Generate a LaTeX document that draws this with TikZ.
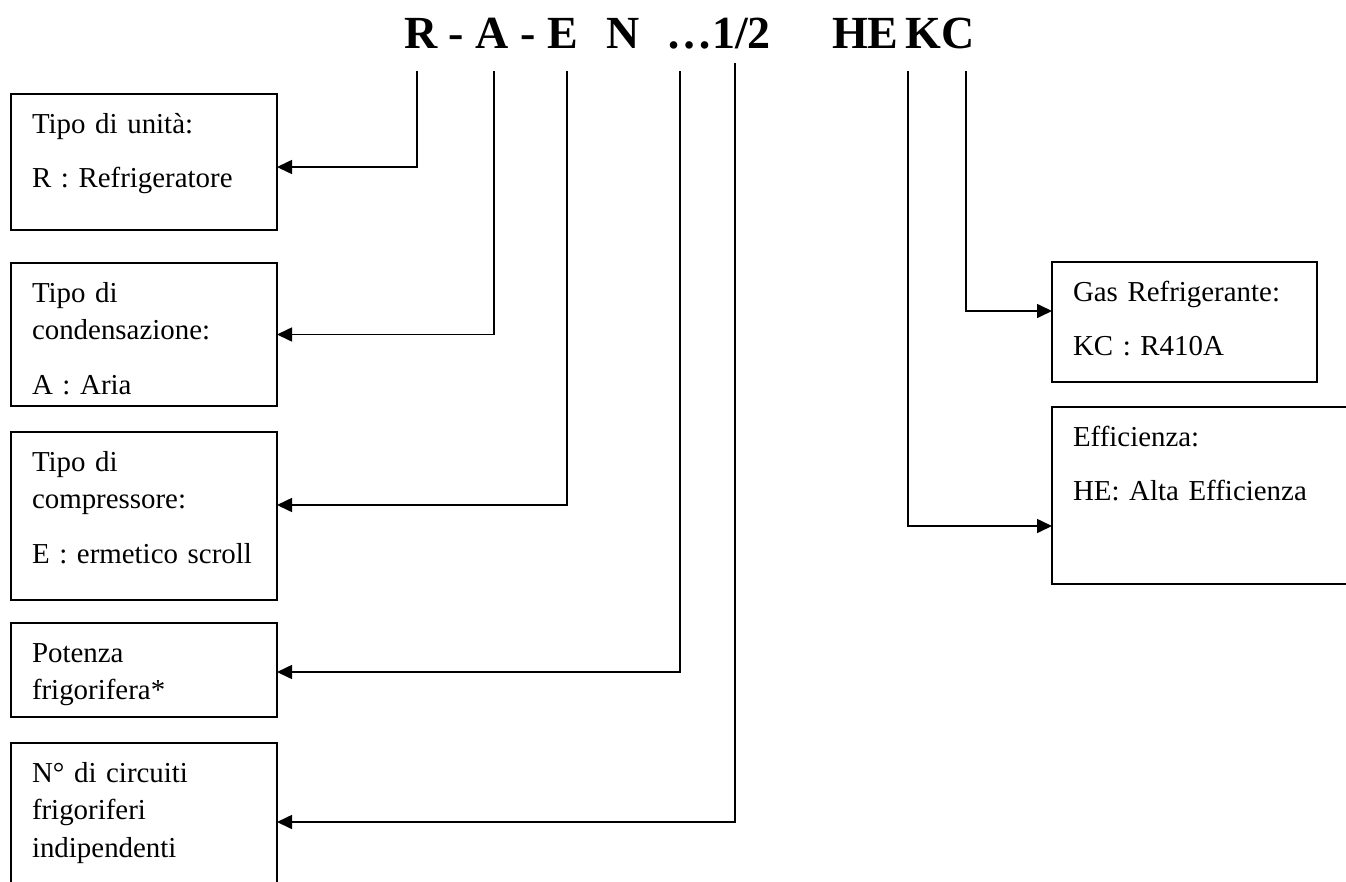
\documentclass[tikz,border=0pt]{standalone}
\usepackage{fontspec}
\setmainfont{Liberation Serif}[BoldFont={Liberation Serif Bold}]
\usetikzlibrary{arrows.meta,positioning}
\tikzset{
  wire/.style={black,line width=1.6pt},
  flow/.style={wire,-{Triangle[length=15pt,width=14pt]}},
  legend/.style={draw=black,line width=1.8pt,anchor=north west,outer sep=0pt,
                 inner xsep=21pt,inner ysep=0pt,text width=224pt,align=left,
                 text height=39pt,font=\fontsize{28.9}{37.5}\selectfont},
  code/.style={anchor=base west,inner sep=0pt,font=\fontsize{46}{50}\selectfont\bfseries},
}

\begin{document}
\begin{tikzpicture}[x=1pt,y=-1pt]
  \path[use as bounding box] (0,0) rectangle (1346,881);
  \clip (0,0) rectangle (1346,881);

  % sigla
  \node[code] (codeRAE)  at (404,48) {R - A - E};
  \node[code] (codeN)    at (606,48) {N};
  \node[code] (codeDots) at (666,48) {…1/2};
  \node[code] (codeHE)   at (832,48) {HE};
  \node[code] (codeKC)   at (905,48) {KC};

  % legenda a sinistra
  \node[legend,text depth=97pt] (unita) at (11,94)
    {Tipo di unità:\\[17pt]R : Refrigeratore};
  \node[legend,text depth=104pt] (condens) at (11,263)
    {Tipo di\\condensazione:\\[17pt]A : Aria};
  \node[legend,text depth=129pt] (compr) at (11,432)
    {Tipo di\\compressore:\\[17pt]E : ermetico scroll};
  \node[legend,text depth=55pt] (potenza) at (11,623)
    {Potenza\\frigorifera*};
  \node[legend,text depth=119pt] (circuiti) at (11,743)
    {N° di circuiti\\frigoriferi\\indipendenti};

  % legenda a destra
  \node[legend,text width=223pt,text depth=81pt] (gas) at (1052,262)
    {Gas Refrigerante:\\[17pt]KC : R410A};
  \node[legend,text width=266pt,text depth=138pt] (eff) at (1052,407)
    {Efficienza:\\[17pt]HE: Alta Efficienza};

  \coordinate (pR)  at (417,71);
  \coordinate (pA)  at (494,71);
  \coordinate (pE)  at (567,71);
  \coordinate (pN)  at (680,71);
  \coordinate (pC)  at (735,63);
  \coordinate (pHE) at (908,71);
  \coordinate (pKC) at (966,71);

  \draw[flow] (pR)  |- ([yshift=-5pt]unita.east);
  \draw[flow] (pA)  |- (condens.east);
  \draw[flow] (pE)  |- ([yshift=11pt]compr.east);
  \draw[flow] (pN)  |- ([yshift=-2pt]potenza.east);
  \draw[flow] (pC)  |- (circuiti.east);
  \draw[flow] (pKC) |- ([yshift=11pt]gas.west);
  \draw[flow] (pHE) |- ([yshift=-30.5pt]eff.west);
\end{tikzpicture}
\end{document}
